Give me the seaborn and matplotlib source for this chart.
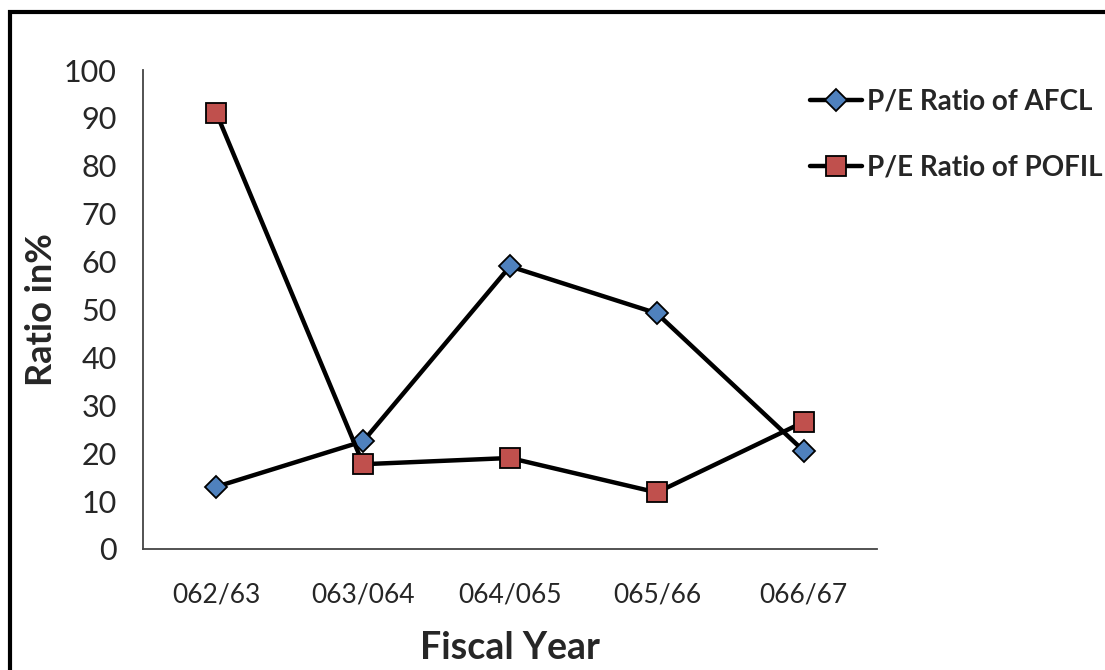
import matplotlib
matplotlib.use("Agg")
import matplotlib.pyplot as plt
import matplotlib.patches as mpatches
import pandas as pd
import seaborn as sns

years = ["062/63", "063/064", "064/065", "065/66", "066/67"]
afcl = [13, 22.5, 59, 49.2, 20.5]
pofil = [91, 17.7, 19, 11.8, 26.5]

sns.set_style("white")
plt.rcParams["font.family"] = ["Lato", "DejaVu Sans"]

fig = plt.figure(figsize=(11.05, 6.7), dpi=100)
ax = fig.add_axes([0.1294, 0.1806, 0.6643, 0.7149])

df = pd.DataFrame({"year": years, "afcl": afcl, "pofil": pofil})
sns.lineplot(data=df, x="year", y="afcl", ax=ax, color="black", lw=3.2,
             marker="D", markersize=11, markerfacecolor="#4F81BD",
             markeredgecolor="black", markeredgewidth=1.3,
             label="P/E Ratio of AFCL", sort=False)
sns.lineplot(data=df, x="year", y="pofil", ax=ax, color="black", lw=3.2,
             marker="s", markersize=14, markerfacecolor="#C0504D",
             markeredgecolor="black", markeredgewidth=1.3,
             label="P/E Ratio of POFIL", sort=False)

ax.set_xlim(-0.5, len(years) - 0.5)
ax.set_ylim(0, 100)
ax.set_yticks(range(0, 101, 10))
ax.set_xticks(range(len(years)))
ax.set_xticklabels(years, fontsize=19)
ax.set_xticks([i - 0.5 for i in range(len(years) + 1)], minor=True)
ax.tick_params(axis="x", which="major", length=0, pad=24)
ax.tick_params(axis="x", which="minor", length=9, width=1.2, color="#444444", direction="out")
ax.tick_params(axis="y", length=11, width=1.2, color="#444444", direction="out", labelsize=22, pad=8)

for side in ["top", "right"]:
    ax.spines[side].set_visible(False)
for side in ["left", "bottom"]:
    ax.spines[side].set_color("#444444")
    ax.spines[side].set_linewidth(1.3)

ax.set_xlabel("Fiscal Year", fontsize=27, fontweight="bold", labelpad=17)
ax.set_ylabel("Ratio in%", fontsize=26, fontweight="bold", labelpad=4)

ax.legend(loc="upper left", bbox_to_anchor=(0.893, 0.985), frameon=False,
          prop={"size": 20, "weight": "bold"}, handlelength=1.9,
          handletextpad=0.15, labelspacing=1.45, borderaxespad=0)

fig.patches.append(mpatches.Rectangle((0.0095, -0.2), 1.5, 1.182, fill=False,
                                      lw=3, edgecolor="black",
                                      transform=fig.transFigure, figure=fig))

fig.savefig("out.png", dpi=100)
